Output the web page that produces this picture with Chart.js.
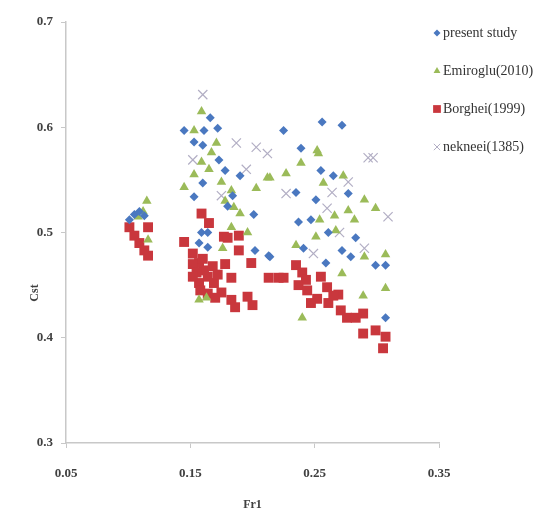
<!DOCTYPE html>
<html>
<head>
<meta charset="utf-8">
<script src="https://cdn.jsdelivr.net/npm/chart.js@4.4.0/dist/chart.umd.min.js"></script>
<style>
html, body { margin: 0; padding: 0; background: #fff; }
</style>
</head>
<body>
<canvas id="cstChart" width="546" height="510"></canvas>
<script>
// axis ticks
const xTicks = [0.05, 0.15, 0.25, 0.35];
const yTicks = [0.3, 0.4, 0.5, 0.6, 0.7];

// series labels
const seriesNames = ['present study', 'Emiroglu(2010)', 'Borghei(1999)', 'nekneei(1385)'];

// [Fr1, Cst] pairs per series
const presentStudy = [
    [0.101, 0.512], [0.105, 0.517], [0.109, 0.520], [0.113, 0.516],
    [0.166, 0.609], [0.145, 0.597], [0.161, 0.597], [0.172, 0.599], [0.153, 0.586], [0.160, 0.583],
    [0.173, 0.569], [0.178, 0.559], [0.190, 0.554], [0.160, 0.547], [0.153, 0.534], [0.184, 0.535],
    [0.201, 0.517], [0.159, 0.500], [0.164, 0.500], [0.157, 0.490], [0.164, 0.486], [0.202, 0.483],
    [0.214, 0.477], [0.180, 0.525],
    [0.225, 0.597], [0.256, 0.605], [0.272, 0.602], [0.239, 0.580], [0.255, 0.559], [0.265, 0.554],
    [0.235, 0.538], [0.251, 0.531], [0.277, 0.537], [0.237, 0.510], [0.247, 0.512], [0.261, 0.500],
    [0.283, 0.495], [0.272, 0.483], [0.241, 0.485], [0.279, 0.477], [0.299, 0.469], [0.307, 0.469],
    [0.259, 0.471], [0.307, 0.419], [0.213, 0.478]
];
const emiroglu = [
    [0.115, 0.530], [0.108, 0.515], [0.112, 0.520], [0.116, 0.493],
    [0.159, 0.615], [0.153, 0.597], [0.171, 0.585], [0.167, 0.576], [0.159, 0.567], [0.153, 0.555],
    [0.145, 0.543], [0.183, 0.540], [0.212, 0.552], [0.203, 0.542], [0.185, 0.524], [0.196, 0.500],
    [0.183, 0.505], [0.157, 0.436], [0.163, 0.438], [0.176, 0.485], [0.178, 0.530], [0.190, 0.518],
    [0.175, 0.548], [0.165, 0.560],
    [0.214, 0.552], [0.227, 0.556], [0.239, 0.566], [0.253, 0.575], [0.257, 0.547], [0.273, 0.554],
    [0.290, 0.531], [0.299, 0.523], [0.277, 0.521], [0.266, 0.516], [0.282, 0.512], [0.254, 0.512],
    [0.267, 0.502], [0.251, 0.496], [0.235, 0.488], [0.290, 0.477], [0.307, 0.479], [0.240, 0.419],
    [0.289, 0.440], [0.307, 0.447], [0.272, 0.461], [0.252, 0.578]
];
const borghei = [
    [0.101, 0.505], [0.105, 0.497], [0.109, 0.490], [0.113, 0.483], [0.116, 0.478], [0.116, 0.505],
    [0.145, 0.491], [0.159, 0.518], [0.165, 0.509], [0.177, 0.496], [0.189, 0.497], [0.152, 0.480],
    [0.157, 0.471], [0.161, 0.464], [0.164, 0.458], [0.169, 0.452], [0.175, 0.443], [0.183, 0.436],
    [0.186, 0.429], [0.196, 0.439], [0.200, 0.431], [0.199, 0.471], [0.189, 0.483], [0.183, 0.457],
    [0.157, 0.452], [0.164, 0.442], [0.152, 0.470], [0.155, 0.462], [0.160, 0.475], [0.168, 0.468],
    [0.172, 0.460], [0.178, 0.470], [0.180, 0.495], [0.152, 0.458], [0.158, 0.445], [0.170, 0.438],
    [0.213, 0.457], [0.221, 0.457], [0.225, 0.457], [0.235, 0.469], [0.240, 0.462], [0.237, 0.450],
    [0.244, 0.445], [0.252, 0.437], [0.255, 0.458], [0.260, 0.448], [0.261, 0.433], [0.269, 0.441],
    [0.271, 0.426], [0.276, 0.419], [0.283, 0.419], [0.289, 0.423], [0.289, 0.404], [0.299, 0.407],
    [0.307, 0.401], [0.305, 0.390], [0.247, 0.433], [0.243, 0.455], [0.265, 0.440]
];
const nekneei = [
    [0.160, 0.631], [0.152, 0.569], [0.187, 0.585], [0.203, 0.581], [0.212, 0.575], [0.175, 0.535],
    [0.195, 0.560], [0.293, 0.571], [0.297, 0.571], [0.227, 0.537], [0.264, 0.538], [0.277, 0.548],
    [0.309, 0.515], [0.260, 0.523], [0.249, 0.480], [0.270, 0.500], [0.290, 0.485]
];

const toPoints = arr => arr.map(p => ({ x: p[0], y: p[1] }));

const styles = [
    { pointStyle: 'rectRot', color: '#4A78C0', radius: 4.5, legendRadius: 3.5 },
    { pointStyle: 'triangle', color: '#9BBB59', radius: 5.5, legendRadius: 4 },
    { pointStyle: 'rect', color: '#C9373D', radius: 7, legendRadius: 5.5 },
    { pointStyle: 'crossRot', color: '#B2AEC4', radius: 6.5, legendRadius: 4.5 }
];
const seriesData = [presentStudy, emiroglu, borghei, nekneei];

const datasets = seriesData.map((arr, i) => {
    const s = styles[i];
    const cross = s.pointStyle === 'crossRot';
    return {
        label: seriesNames[i],
        data: toPoints(arr),
        pointStyle: s.pointStyle,
        pointRadius: s.radius,
        pointHoverRadius: s.radius,
        backgroundColor: s.color,
        borderColor: s.color,
        pointBorderWidth: cross ? 1.2 : 0,
        legendRadius: s.legendRadius
    };
});

// legend beside the plot plus the rotated y title
const sideLegend = {
    id: 'sideLegend',
    afterDraw(chart) {
        const ctx = chart.ctx;
        ctx.save();
        ctx.font = '14px "Liberation Serif"';
        ctx.textBaseline = 'middle';
        chart.data.datasets.forEach((ds, i) => {
            const y = 33 + i * 38;
            ctx.fillStyle = ds.backgroundColor;
            ctx.strokeStyle = ds.borderColor;
            ctx.lineWidth = 1;
            Chart.helpers.drawPoint(ctx, {
                pointStyle: ds.pointStyle,
                radius: ds.legendRadius,
                borderWidth: ds.pointStyle === 'crossRot' ? 1 : 0,
                rotation: 0
            }, 437, y);
            ctx.fillStyle = '#333333';
            ctx.fillText(ds.label, 443, y);
        });

        ctx.translate(35, 293);
        ctx.rotate(-Math.PI / 2);
        ctx.textAlign = 'center';
        ctx.font = 'bold 12px "Liberation Serif"';
        ctx.fillStyle = '#404040';
        ctx.fillText('Cst', 0, 0);
        ctx.restore();
    }
};

const tickFont = { family: 'Liberation Serif', size: 13, weight: 'bold' };
const axisGrey = '#C8C8C8';

new Chart(document.getElementById('cstChart'), {
    type: 'scatter',
    data: { datasets: datasets },
    options: {
        responsive: false,
        animation: false,
        layout: { padding: { top: 22, right: 107, left: 0, bottom: 0 } },
        plugins: {
            legend: { display: false },
            tooltip: { enabled: false }
        },
        scales: {
            x: {
                type: 'linear',
                min: 0.05,
                max: 0.35,
                afterBuildTicks: s => { s.ticks = xTicks.map(v => ({ value: v })); },
                afterFit: s => { s.height = 67; },
                ticks: {
                    callback: v => v.toFixed(2),
                    font: tickFont,
                    color: '#404040',
                    padding: 18,
                    maxRotation: 0
                },
                grid: { drawOnChartArea: false, color: axisGrey, tickLength: 5 },
                border: { color: axisGrey, width: 1.5 },
                title: {
                    display: true,
                    text: 'Fr1',
                    font: { family: 'Liberation Serif', size: 12, weight: 'bold' },
                    color: '#404040',
                    padding: { top: 0, bottom: -2 }
                }
            },
            y: {
                type: 'linear',
                min: 0.3,
                max: 0.7,
                afterBuildTicks: s => { s.ticks = yTicks.map(v => ({ value: v })); },
                afterFit: s => { s.width = 66; },
                ticks: {
                    callback: v => v.toFixed(1),
                    font: tickFont,
                    color: '#404040',
                    padding: 8
                },
                grid: { drawOnChartArea: false, color: axisGrey, tickLength: 5 },
                border: { color: axisGrey, width: 1.5 }
            }
        }
    },
    plugins: [sideLegend]
});
</script>
</body>
</html>
